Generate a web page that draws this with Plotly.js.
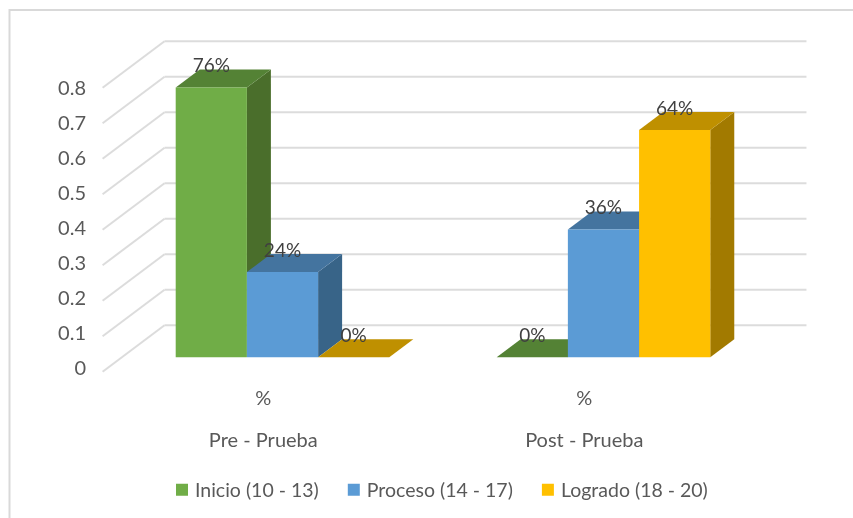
<!DOCTYPE html>
<html>
<head>
<meta charset="utf-8">
<script src="https://cdn.plot.ly/plotly-3.0.1.min.js"></script>
<style>html,body{margin:0;padding:0;background:#fff;overflow:hidden}#chart{width:853px;height:518px;filter:blur(0.4px)}</style>
</head>
<body>
<div id="chart"></div>
<script>
// ---- data ----
const categories = ['Pre - Prueba', 'Post - Prueba'];
const subLabel = '%';
const seriesNames = ['Inicio (10 - 13)', 'Proceso (14 - 17)', 'Logrado (18 - 20)'];
const inicio = [0.76, 0];
const proceso = [0.24, 0.36];
const logrado = [0, 0.64];
const yTicks = [0, 0.1, 0.2, 0.3, 0.4, 0.5, 0.6, 0.7, 0.8];
const frontColors = ['#70AD47', '#5B9BD5', '#FFC000'];
const topColors = ['#548235', '#44749F', '#BF9000'];
const sideColors = ['#4A6E2B', '#386488', '#A27A00'];

// ---- oblique projection set-up (axis units) ----
const W = 853, H = 518, L = 90, R = 20, T = 30, B = 133;
const slotPx = 71.2, unitPx = 355, firstBarPx = 175.7, basePx = 357.3;
const groupGap = 4.508;             // slots between the two groups
const DX = 24 / slotPx, DY = 18 / unitPx;   // one bar depth
const dBack = 1.78, dFront = -0.8;
const project = (x, v, d) => [x + d * DX, v + d * DY];

const seriesValues = [inicio, proceso, logrado];
const groupStart = i => i * groupGap;
const shapes = [];
const poly = (pts, color) => shapes.push({
  type: 'path', xref: 'x', yref: 'y', layer: 'below',
  path: 'M' + pts.map(p => p[0] + ',' + p[1]).join('L') + 'Z',
  fillcolor: color, line: {width: 0}
});
const segment = (a, b) => shapes.push({
  type: 'line', xref: 'x', yref: 'y', layer: 'below',
  x0: a[0], y0: a[1], x1: b[0], y1: b[1],
  line: {color: '#DCDCDC', width: 2}
});

// wall + floor gridlines
const wallSlots = 2 * groupGap;
const wallStart = -(firstBarPx - (103 + 18.8)) / slotPx;
yTicks.forEach(v => {
  segment(project(wallStart, v, dFront), project(wallStart, v, dBack));
  segment(project(wallStart, v, dBack), project(wallStart + wallSlots, v, dBack));
});

// side and top faces, painted left to right
categories.forEach((c, g) => {
  seriesValues.forEach((vals, s) => {
    const x0 = groupStart(g) + s, x1 = x0 + 1, v = vals[g];
    if (v > 0) poly([project(x1, 0, 0), project(x1, v, 0), project(x1, v, 1), project(x1, 0, 1)], sideColors[s]);
    poly([project(x0, v, 0), project(x1, v, 0), project(x1, v, 1), project(x0, v, 1)], topColors[s]);
  });
});

// chart frame
const px2x = p => (p - L) / (W - L - R), px2y = p => (H - B - p) / (H - T - B);
shapes.push({type: 'path', xref: 'paper', yref: 'paper', layer: 'below',
  path: `M${px2x(9.5)},${px2y(518)}L${px2x(9.5)},${px2y(10)}L${px2x(853)},${px2y(10)}`,
  line: {color: '#D9D9D9', width: 2}});

// front faces
const traces = seriesValues.map((vals, s) => ({
  type: 'bar', name: seriesNames[s], showlegend: false, hoverinfo: 'skip',
  x: categories.map((c, g) => groupStart(g) + s + 0.5),
  y: vals, width: 1, marker: {color: frontColors[s], line: {width: 0}}
}));

// value labels, anchored on the middle of each bar's top face
seriesValues.forEach((vals, s) => {
  const pts = vals.map((v, g) => project(groupStart(g) + s + 0.5, v, 0));
  traces.push({
    type: 'scatter', mode: 'text', showlegend: false, hoverinfo: 'skip',
    x: pts.map(p => p[0]), y: pts.map(p => p[1] + 0.6 * DY),
    text: vals.map(v => Math.round(v * 100) + '%'),
    textposition: 'top center',
    textfont: {family: 'Lato, sans-serif', size: 19, color: '#404040'}
  });
});

// legend entries (square keys), on the tick-label axis
seriesNames.forEach((n, s) => traces.push({
  type: 'scatter', mode: 'markers', name: n, yaxis: 'y2', hoverinfo: 'skip',
  x: [null], y: [null], marker: {symbol: 'square', size: 12, color: frontColors[s]}
}));

const xMin = (L - firstBarPx) / slotPx, xMax = (W - R - firstBarPx) / slotPx;
const yMin = (basePx - (H - B)) / unitPx, yMax = (basePx - T) / unitPx;
const lblZero = 368, lblScale = 349.5;
const big = t => '<span style="font-size:20px">' + t + '</span>';

const layout = {
  width: W, height: H, margin: {l: L, r: R, t: T, b: B, autoexpand: false},
  paper_bgcolor: '#fff', plot_bgcolor: 'rgba(0,0,0,0)',
  font: {family: 'Lato, sans-serif', color: '#595959', size: 16},
  barmode: 'overlay', shapes: shapes,
  xaxis: {range: [xMin, xMax], showgrid: false, zeroline: false, showline: false, ticks: '',
    tickmode: 'array',
    tickvals: categories.map((c, g) => groupStart(g) + 1.5 + dFront * DX),
    ticktext: categories.map(c => big(subLabel) + '<br> <br>' + big(c)),
    ticklabelstandoff: 3,
    tickfont: {size: 16, color: '#595959'}},
  yaxis: {range: [yMin, yMax], showgrid: false, zeroline: false, showline: false,
    showticklabels: false, ticks: ''},
  yaxis2: {overlaying: 'y', side: 'left', showgrid: false, zeroline: false, showline: false, ticks: '',
    range: [(lblZero - (H - B)) / lblScale, (lblZero - T) / lblScale],
    tickmode: 'array', tickvals: yTicks, ticktext: yTicks.map(String),
    ticklabelstandoff: 3,
    tickfont: {size: 20, color: '#595959'}},
  legend: {orientation: 'h', x: px2x(155), xanchor: 'left', y: px2y(490), yanchor: 'middle',
    font: {size: 19.5, color: '#595959'}, bgcolor: 'rgba(0,0,0,0)'},
  showlegend: true
};

Plotly.newPlot('chart', traces, layout, {displayModeBar: false, staticPlot: true}).then(() => {
  // legend keys sit closer to their text in the original, and the entries a little further apart
  document.querySelectorAll('#chart .legend .legendsymbols').forEach(g => g.setAttribute('transform', 'translate(7,0)'));
  const extraGap = 3;
  document.querySelectorAll('#chart .legend .traces').forEach((g, i) => {
    const m = /translate\(([-\d.]+),\s*([-\d.]+)\)/.exec(g.getAttribute('transform') || '');
    if (m) g.setAttribute('transform', `translate(${parseFloat(m[1]) + i * extraGap},${m[2]})`);
  });
});
</script>
</body>
</html>
